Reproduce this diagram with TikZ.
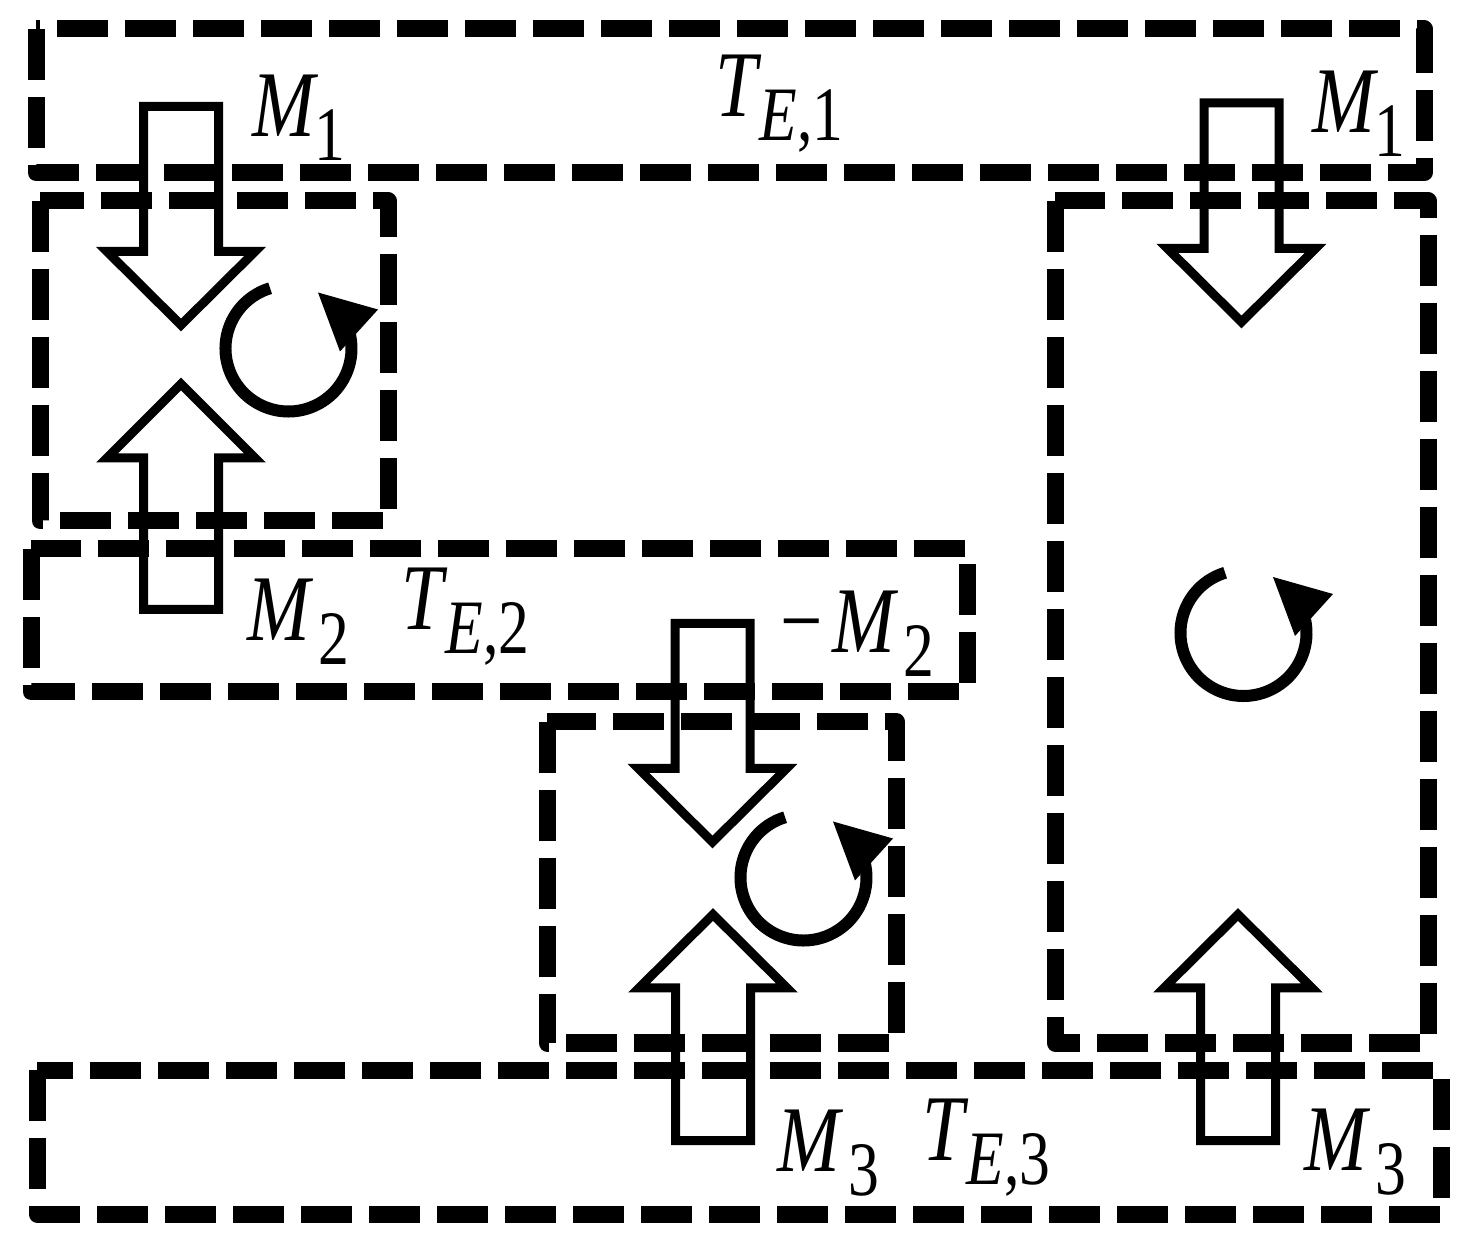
\documentclass[tikz,border=0pt]{standalone}
\usepackage{fontspec}
\setmainfont{Liberation Serif}
\usepackage{graphicx}
\usepackage{tikz}

% moment / torque label: main letter, subscript, optional kern
\newcommand{\lab}[3][0pt]{\scalebox{0.8}[1]{\fontsize{94}{94}\selectfont
  \textit{#2}\kern#1\raisebox{-24pt}{\fontsize{77}{77}\selectfont #3}}}

\tikzset{
  zone/.style={line width=17pt, dash pattern=on 51pt off 17pt, line join=round},
  blockarrow/.style={line width=9pt, line join=miter},
  spin/.style={line width=12pt},
  lbl/.style={anchor=base west, inner sep=0pt}
}

\begin{document}
\begin{tikzpicture}[x=1pt, y=1pt, line cap=butt]
  \useasboundingbox (0,0) rectangle (1469,1245);
  % energy bands
  \draw[zone] (36,1216) rectangle (1424,1072);
  \draw[zone] (31,696) rectangle (967,553);
  \draw[zone] (37,175) rectangle (1441,31);
  % cells
  \draw[zone] (40,1044) rectangle (388,724);
  \draw[zone] (547,523) rectangle (896.5,202);
  \draw[zone] (1055,1044) rectangle (1428,202);
  % block arrows: centre x / tip / head base / tail
  \foreach \cx/\tip/\base/\tail in {181/920/993.5/1138.5, 1241.5/923/996.5/1142,
      712.5/403/476.5/621.5, 181/861/787/635.5, 713/330.5/257/104.5, 1238/330.5/257/104.5}
    \draw[blockarrow] (\cx,\tip) -- (\cx+74,\base) -- (\cx+37.5,\base) -- (\cx+37.5,\tail)
      -- (\cx-37.5,\tail) -- (\cx-37.5,\base) -- (\cx-74,\base) -- cycle;
  % rotation arrows
  \foreach \rx/\ry in {288.5/896.5, 803.5/367.5, 1243.5/612} {
    \draw[spin] (\rx,\ry) ++(107:63) arc[start angle=107, end angle=378, radius=63];
    \fill (\rx,\ry) ++(29.5,56) -- ++(60,-17) -- ++(-38,-42) -- cycle;
  }
  % labels
  \draw (252,1108.3) node[lbl] (m1left) {\lab[-5pt]{M}{1}};
  \draw (1312,1112.3) node[lbl] (m1right) {\lab[-5pt]{M}{1}};
  \draw (715.6,1128.3) node[lbl] (te1) {\lab[-3pt]{T}{\textit{E},1}};
  \draw (247,604.3) node[lbl] (m2) {\lab[6pt]{M}{2}};
  \draw (401.6,615) node[lbl] (te2) {\lab[-3pt]{T}{\textit{E},2}};
  \draw (780.7,592) node[lbl] (m2neg) {\lab[6pt]{\textup{−}\kern12pt M}{2}};
  \draw (777,73.3) node[lbl] (m3mid) {\lab[6pt]{M}{3}};
  \draw (922.6,85) node[lbl] (te3) {\lab[-3pt]{T}{\textit{E},3}};
  \draw (1304,74.3) node[lbl] (m3right) {\lab[6pt]{M}{3}};
\end{tikzpicture}
\end{document}
